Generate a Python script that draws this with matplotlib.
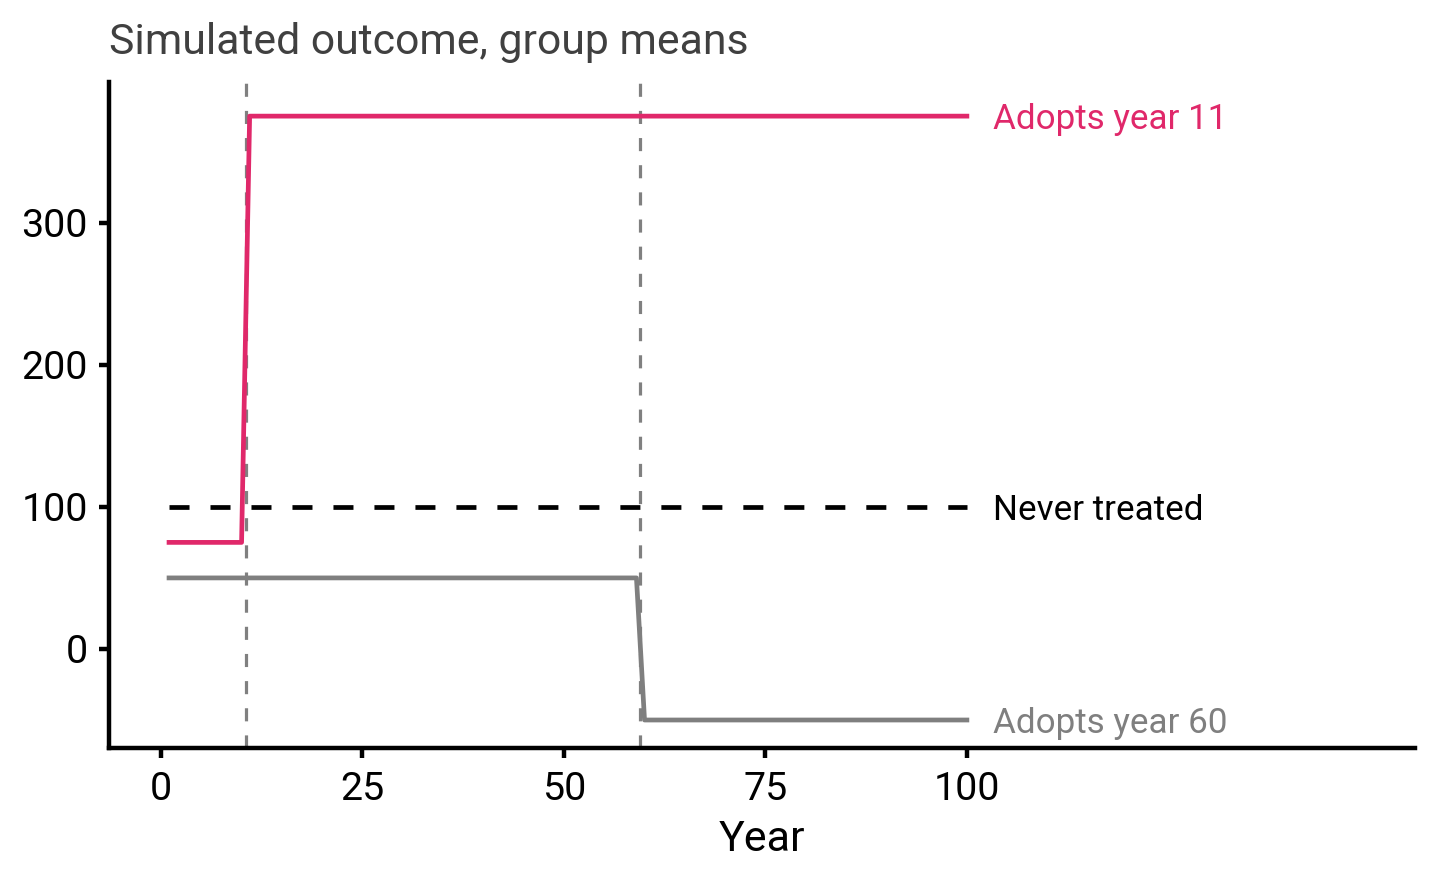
import numpy as np
import matplotlib
matplotlib.use("Agg")
import matplotlib.pyplot as plt

plt.rcParams["font.family"] = ["Roboto", "DejaVu Sans"]

# group means by year
years = np.arange(1, 101)
adopt11_before, adopt11_after = 75, 375
adopt60_before, adopt60_after = 50, -50
never_treated = 100
adopt_years = [11, 60]

y_adopt11 = np.where(years < 11, adopt11_before, adopt11_after)
y_adopt60 = np.where(years < 60, adopt60_before, adopt60_after)
y_never = np.full(years.shape, never_treated)

series_labels = ["Adopts year 11", "Never treated", "Adopts year 60"]
series_colors = ["#E0286A", "#000000", "#7F7F7F"]

fig = plt.figure(figsize=(7.2, 4.415), dpi=200)
ax = fig.add_axes([0.0757, 0.1529, 0.9826 - 0.0757, 0.9071 - 0.1529])

# vertical lines half a year before adoption
for a in adopt_years:
    ax.axvline(a - 0.5, color="#808080", lw=1.15, dashes=(4.1, 4.4), zorder=1)

ax.plot(years, y_adopt11, color=series_colors[0], lw=1.7, zorder=3)
ax.plot(years, y_never, color=series_colors[1], lw=1.7, dashes=(4.24, 4.44), zorder=2)
ax.plot(years, y_adopt60, color=series_colors[2], lw=1.7, zorder=2)

# direct labels at the end of each line
ends = [y_adopt11[-1], y_never[-1], y_adopt60[-1]]
for lab, col, yv in zip(series_labels, series_colors, ends):
    ax.text(years[-1] + 3.3, yv, lab, color=col, fontsize=12.6,
            va="center_baseline", ha="left")

ax.set_xlim(-6.45, 155.6)
ax.set_ylim(-69.7, 399)
ax.set_xticks([0, 25, 50, 75, 100])
ax.set_yticks([0, 100, 200, 300])

for s in ["top", "right"]:
    ax.spines[s].set_visible(False)
for s in ["left", "bottom"]:
    ax.spines[s].set_linewidth(1.6)
ax.tick_params(length=3.6, width=1.6, labelsize=14.2)
ax.tick_params(axis="x", pad=4.7)
ax.tick_params(axis="y", pad=4)

ax.set_xlabel("Year", fontsize=15.5, labelpad=4)
ax.set_title("Simulated outcome, group means", loc="left", fontsize=15.4,
             color="#404040", pad=10)

fig.savefig("out.png", dpi=200)
